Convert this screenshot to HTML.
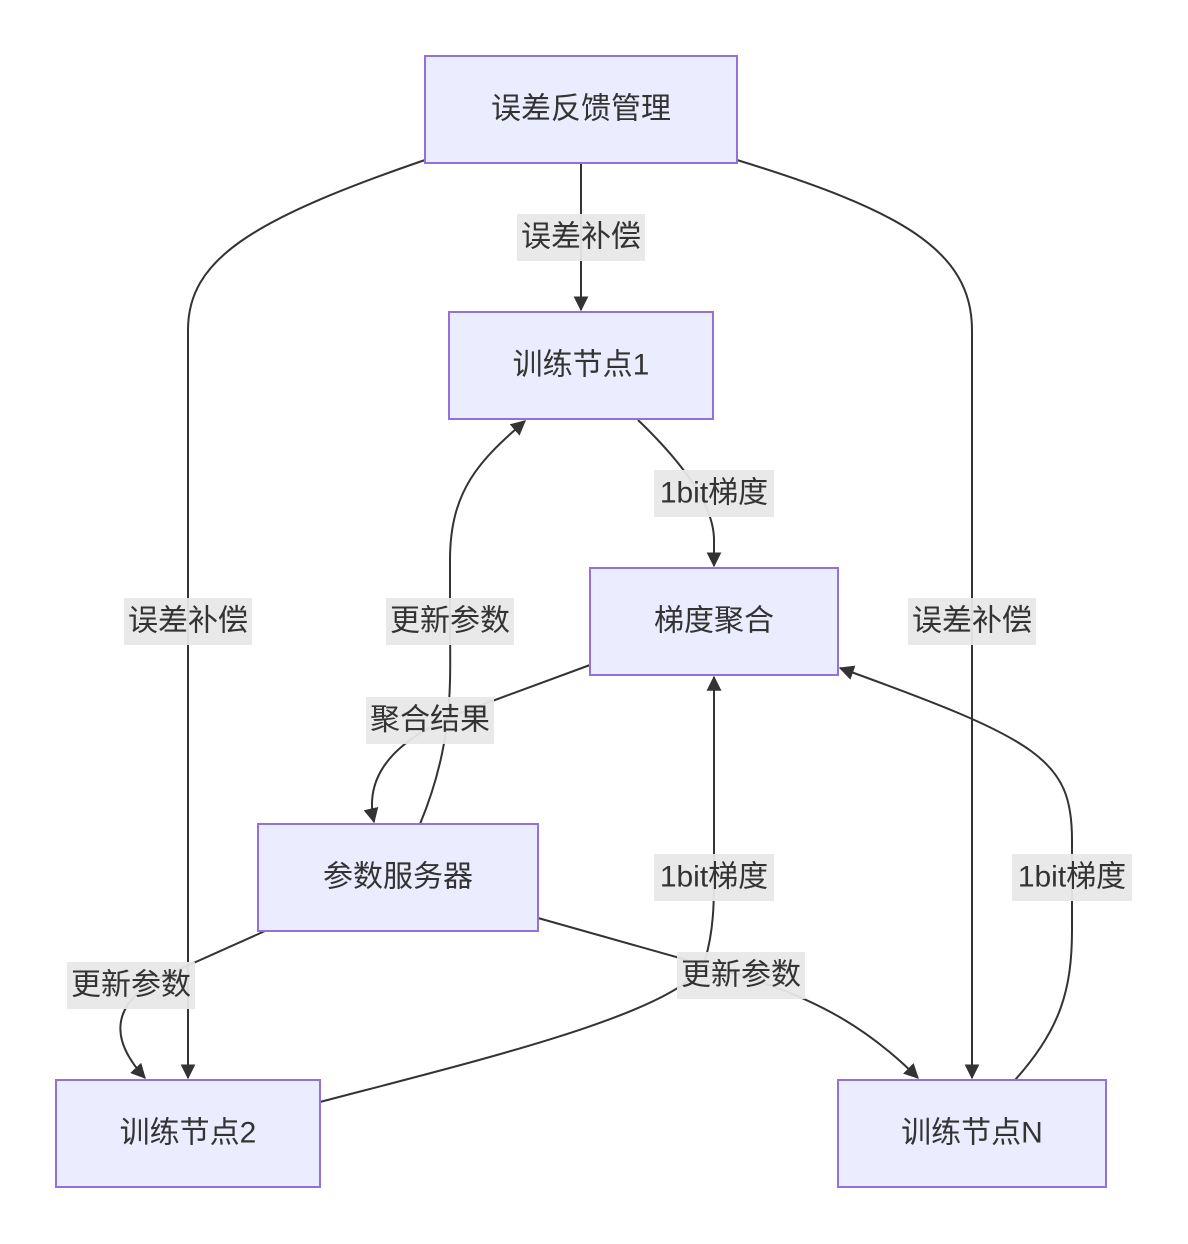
<!DOCTYPE html>
<html><head><meta charset="utf-8"><style>
html,body{margin:0;padding:0;background:#fff;}
svg{display:block;}
text{font-family:"Liberation Sans","Noto Sans CJK SC",sans-serif;fill:#333;}
</style></head><body>
<svg width="1188" height="1244" viewBox="0 0 1188 1244" xmlns="http://www.w3.org/2000/svg">
<defs>
<marker id="a" viewBox="0 0 10 10" refX="9" refY="5" markerWidth="8" markerHeight="8" markerUnits="userSpaceOnUse" orient="auto">
<path d="M0,0 L10,5 L0,10 z" fill="#333"/></marker>
<marker id="b" viewBox="0 0 12 12" refX="11" refY="6" markerWidth="15" markerHeight="15" markerUnits="userSpaceOnUse" orient="auto">
<path d="M0,0 L12,6 L0,12 z" fill="#333"/></marker>
</defs>
<g fill="none" stroke="#333" stroke-width="2">
<path d="M581,163 L581,310" marker-end="url(#b)"/>
<path d="M638,420 C690,470 714,510 714,540 L714,566" marker-end="url(#b)"/>
<path d="M590,665 L495,700 C420,725 360,760 374,822" marker-end="url(#b)"/>
<path d="M420,824 C455,740 450,680 450,621 L450,560 C450,490 480,460 525,421" marker-end="url(#b)"/>
<path d="M265,931 L160,978 C110,1005 110,1040 145,1078" marker-end="url(#b)"/>
<path d="M538,918 L740,975 C820,1000 870,1030 918,1078" marker-end="url(#b)"/>
<path d="M425,160 C250,220 188,260 188,330 L188,1078" marker-end="url(#b)"/>
<path d="M737,160 C900,210 972,250 972,330 L972,1078" marker-end="url(#b)"/>
<path d="M320,1102 C480,1060 690,1010 705,960 C714,930 714,900 714,877 L714,677" marker-end="url(#b)"/>
<path d="M1015,1080 C1060,1030 1072,990 1072,930 L1072,840 C1072,760 1040,740 840,668" marker-end="url(#b)"/>
</g>
<g fill="#ECECFF" stroke="#9370DB" stroke-width="2">
<rect x="425" y="56" width="312" height="107"/>
<rect x="449" y="312" width="264" height="107"/>
<rect x="590" y="568" width="248" height="107"/>
<rect x="258" y="824" width="280" height="107"/>
<rect x="56" y="1080" width="264" height="107"/>
<rect x="838" y="1080" width="268" height="107"/>
</g>
<g fill="#e8e8e8" opacity="0.95">
<rect x="517" y="214" width="128" height="47"/>
<rect x="654" y="470" width="120" height="47"/>
<rect x="366" y="697" width="128" height="47"/>
<rect x="386" y="598" width="128" height="47"/>
<rect x="67" y="962" width="128" height="47"/>
<rect x="677" y="952" width="128" height="47"/>
<rect x="124" y="598" width="128" height="47"/>
<rect x="908" y="598" width="128" height="47"/>
<rect x="654" y="854" width="120" height="47"/>
<rect x="1012" y="854" width="120" height="47"/>
</g>
<g font-size="30" text-anchor="middle" dominant-baseline="central">
<text x="581" y="109">误差反馈管理</text>
<text x="581" y="365">训练节点1</text>
<text x="714" y="621">梯度聚合</text>
<text x="398" y="877">参数服务器</text>
<text x="188" y="1133">训练节点2</text>
<text x="972" y="1133">训练节点N</text>
<text x="581" y="237">误差补偿</text>
<text x="714" y="493">1bit梯度</text>
<text x="430" y="720">聚合结果</text>
<text x="450" y="621">更新参数</text>
<text x="131" y="985">更新参数</text>
<text x="741" y="975">更新参数</text>
<text x="188" y="621">误差补偿</text>
<text x="972" y="621">误差补偿</text>
<text x="714" y="877">1bit梯度</text>
<text x="1072" y="877">1bit梯度</text>
</g>
</svg>
</body></html>
